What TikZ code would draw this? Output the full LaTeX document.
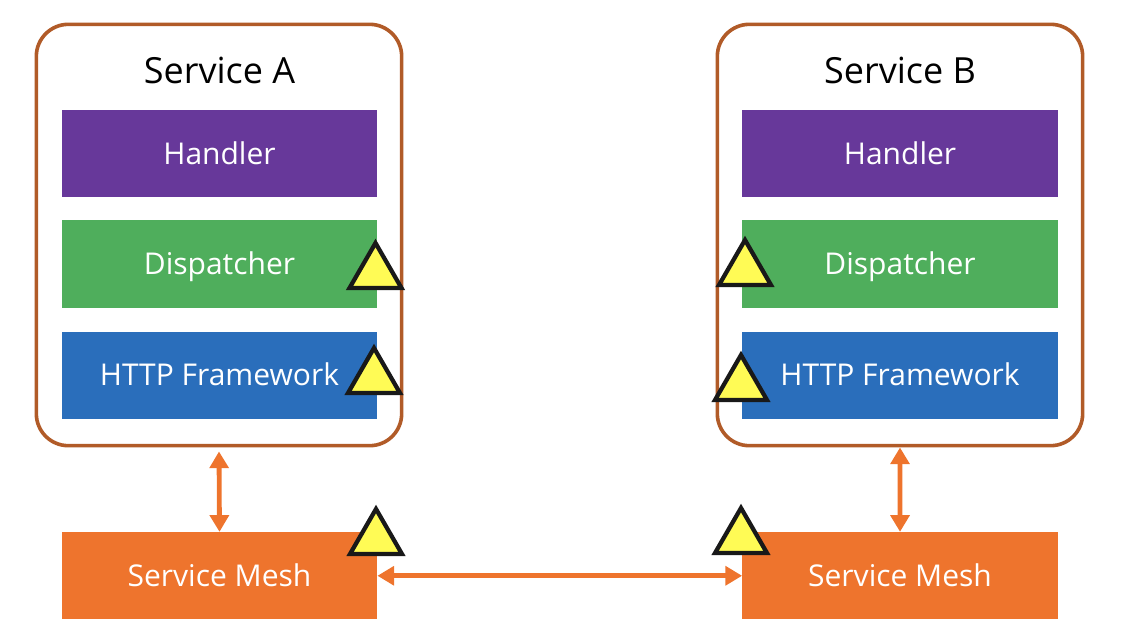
\documentclass[tikz,border=0pt]{standalone}
\usepackage{fontspec}
\setmainfont{Open Sans}
\usetikzlibrary{positioning,arrows.meta,shapes.geometric}
\definecolor{svcline}{HTML}{B15B28}
\definecolor{hdlfill}{HTML}{67389A}
\definecolor{dspfill}{HTML}{4FAE5C}
\definecolor{httpfill}{HTML}{2A6EBB}
\definecolor{meshfill}{HTML}{EE742D}
\definecolor{warnfill}{HTML}{FFFB55}
\tikzstyle{svcbox}=[rectangle, rounded corners=24pt, draw=svcline, line width=2.7pt,
                    minimum width=274pt, minimum height=316pt, inner sep=0pt]
\tikzstyle{title}=[text=black, font=\fontsize{27}{31}\selectfont, inner sep=0pt]
\tikzstyle{layer}=[rectangle, text=white, font=\fontsize{22.5}{26}\selectfont,
                    minimum width=236.5pt, minimum height=65.5pt, inner sep=0pt,
                    text height=18pt, text depth=2.2pt]
\tikzstyle{warn}=[regular polygon, regular polygon sides=3, draw=black!90, fill=warnfill,
                    line width=3.2pt, minimum size=45pt, inner sep=0pt]
\tikzstyle{link}=[{Triangle[length=12.5pt,width=14pt]}-{Triangle[length=12.5pt,width=14pt]},
                    draw=meshfill, line width=3.6pt]

\begin{document}
\begin{tikzpicture}[x=0.75pt,y=-0.75pt]
\useasboundingbox (0,0) rectangle (1128,640);

\node (SVCA) [svcbox] at (219,235) {};
\node (SVCB) [svcbox] at (900,235) {};

\node (HDLA) [layer, fill=hdlfill] at (219.5,153.5) {Handler};
\node (DSPA) [layer, fill=dspfill, below=17pt of HDLA] {Dispatcher};
\node (HTTPA) [layer, fill=httpfill, below=17.5pt of DSPA] {HTTP Framework};
\node (MESHA) [layer, fill=meshfill, below=84.5pt of HTTPA] {Service Mesh};
\node (TTLA) [title] at (219.5,70) {Service A};

\node (HDLB) [layer, fill=hdlfill, right=273.5pt of HDLA] {Handler};
\node (DSPB) [layer, fill=dspfill, below=17pt of HDLB] {Dispatcher};
\node (HTTPB) [layer, fill=httpfill, below=17.5pt of DSPB] {HTTP Framework};
\node (MESHB) [layer, fill=meshfill, below=84.5pt of HTTPB] {Service Mesh};
\node (TTLB) [title] at (900,70) {Service B};

\node (WDSPA) [warn] at (375.5,273) {};
\node (WHTTPA) [warn] at (374,378) {};
\node (WMESHA) [warn] at (376,539) {};
\node (WDSPB) [warn] at (745,270) {};
\node (WHTTPB) [warn] at (741,385) {};
\node (WMESHB) [warn] at (741,538) {};

 \draw[link]   ([yshift=-3pt]SVCA.south) -- (MESHA.north);
 \draw[link]   (SVCB.south) -- (MESHB.north);
 \draw[link]   (MESHA.east) -- (MESHB.west);

\end{tikzpicture}
\end{document}
